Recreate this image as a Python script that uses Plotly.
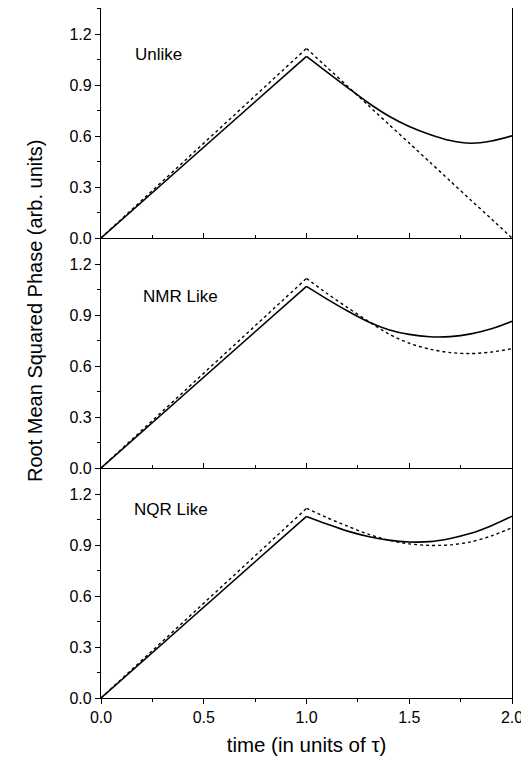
import plotly.graph_objects as go
from plotly.subplots import make_subplots

# time axis (units of tau): linear rise, then evolution after the pulse at t = tau
t_rise = [0.0, 0.5, 1.0]
t_decay = [1.0, 1.1, 1.2, 1.3, 1.4, 1.5, 1.6, 1.7, 1.8, 1.9, 2.0]

# rise (same shape in all panels)
rise_solid = [0.0, 0.535, 1.07]
rise_dot = [0.0, 0.56, 1.117]

# Unlike
unlike_solid = [1.07, 0.977, 0.886, 0.797, 0.719, 0.657, 0.610, 0.574, 0.558, 0.571, 0.602]
unlike_dot = [1.117, 1.005, 0.894, 0.782, 0.670, 0.559, 0.447, 0.335, 0.223, 0.112, 0.0]
# NMR Like
nmr_solid = [1.07, 0.995, 0.925, 0.862, 0.815, 0.787, 0.773, 0.774, 0.79, 0.82, 0.864]
nmr_dot = [1.117, 1.028, 0.945, 0.865, 0.79, 0.735, 0.70, 0.68, 0.674, 0.683, 0.703]
# NQR Like
nqr_solid = [1.07, 1.025, 0.983, 0.952, 0.93, 0.919, 0.921, 0.940, 0.970, 1.015, 1.071]
nqr_dot = [1.117, 1.062, 1.012, 0.965, 0.93, 0.908, 0.899, 0.902, 0.92, 0.955, 1.003]

panel_labels = ["Unlike", "NMR Like", "NQR Like"]
label_pos = [(0.155, 1.08), (0.195, 1.01), (0.15, 1.11)]

y_ticks = [0.0, 0.3, 0.6, 0.9, 1.2]
x_ticks = [0.0, 0.5, 1.0, 1.5, 2.0]

FONT = "Liberation Sans, Arial, sans-serif"
DOT = dict(color="black", width=1.4, dash="dot")
SOLID = dict(color="black", width=1.6)

fig = make_subplots(rows=3, cols=1, shared_xaxes=True, vertical_spacing=0)

series = [(unlike_solid, unlike_dot), (nmr_solid, nmr_dot), (nqr_solid, nqr_dot)]
for i, (s, d) in enumerate(series, start=1):
    fig.add_trace(go.Scatter(x=t_rise, y=rise_dot, mode="lines", line=DOT,
                             showlegend=False), row=i, col=1)
    fig.add_trace(go.Scatter(x=t_decay, y=d, mode="lines",
                             line=dict(DOT, shape="spline", smoothing=0.8),
                             showlegend=False), row=i, col=1)
    fig.add_trace(go.Scatter(x=t_rise, y=rise_solid, mode="lines", line=SOLID,
                             showlegend=False), row=i, col=1)
    fig.add_trace(go.Scatter(x=t_decay, y=s, mode="lines",
                             line=dict(SOLID, shape="spline", smoothing=0.8),
                             showlegend=False), row=i, col=1)
    fig.add_annotation(x=label_pos[i-1][0], y=label_pos[i-1][1],
                       xref=f"x{'' if i == 1 else i}", yref=f"y{'' if i == 1 else i}",
                       text=panel_labels[i-1], showarrow=False, xanchor="left",
                       font=dict(family=FONT, size=17, color="black"))

for i in range(1, 4):
    fig.update_yaxes(range=[0, 1.355], tickvals=y_ticks, ticktext=[f"{v:.1f}" for v in y_ticks],
                     ticks="outside", ticklen=5, tickwidth=1, tickcolor="black",
                     minor=dict(dtick=0.15, tick0=0, ticks="outside", ticklen=3, tickcolor="black"),
                     showline=True, linecolor="black", linewidth=1.3, mirror=True,
                     showgrid=False, zeroline=False,
                     tickfont=dict(family=FONT, size=16, color="black"),
                     row=i, col=1)
    fig.update_xaxes(range=[0, 2], tickvals=x_ticks, ticktext=[f"{v:.1f}" for v in x_ticks],
                     ticks="inside" if i < 3 else "outside", ticklen=5, tickwidth=1, tickcolor="black",
                     minor=dict(dtick=0.25, tick0=0, ticks="inside" if i < 3 else "outside",
                                ticklen=3, tickcolor="black"),
                     showticklabels=(i == 3),
                     showline=True, linecolor="black", linewidth=1.3, mirror=(i == 1),
                     showgrid=False, zeroline=False,
                     tickfont=dict(family=FONT, size=16, color="black"),
                     row=i, col=1)

fig.update_xaxes(title=dict(text="time (in units of τ)", standoff=12,
                            font=dict(family=FONT, size=20.5, color="black")),
                 row=3, col=1)

fig.add_annotation(x=-0.192, y=0.561, xref="paper", yref="paper", textangle=-90,
                   text="Root Mean Squared Phase (arb. units)", showarrow=False,
                   font=dict(family=FONT, size=20, color="black"))

fig.update_layout(width=521, height=759, margin=dict(l=93, r=17, t=0, b=69),
                  plot_bgcolor="white", paper_bgcolor="white")

fig.write_html("out.html")
